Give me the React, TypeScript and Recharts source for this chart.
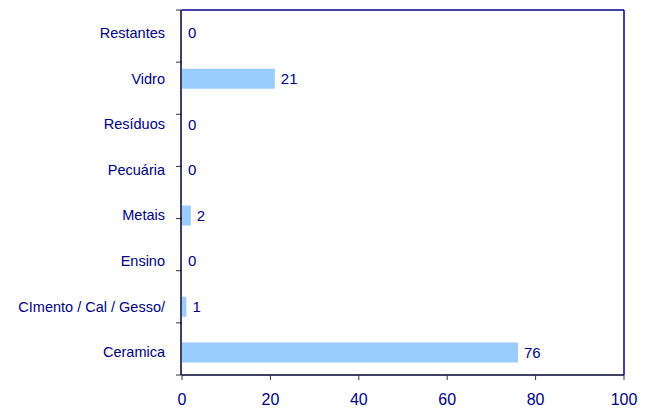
import React from 'react';
import { BarChart, Bar, XAxis, YAxis, LabelList, ReferenceLine } from 'recharts';

const categories = ['Restantes', 'Vidro', 'Resíduos', 'Pecuária', 'Metais', 'Ensino', 'CImento / Cal / Gesso/', 'Ceramica'];
const values = [0, 21, 0, 0, 2, 0, 1, 76];
const xTicks = [0, 20, 40, 60, 80, 100];
const bandTicks = [0, 1, 2, 3, 4, 5, 6, 7, 8];

const data = categories.map((name, i) => ({ name, value: values[i], label: String(values[i]) }));

const NAVY = '#000080';
const FONT = 'Liberation Sans, Arial, sans-serif';

export default function App() {
  return (
    <div style={{ width: 647, height: 407 }}>
      <BarChart
        width={647}
        height={407}
        data={data}
        layout="vertical"
        margin={{ top: 2, right: 31, bottom: 10, left: 0 }}
        style={{ fontFamily: FONT }}
      >
        <XAxis
          type="number"
          xAxisId="x"
          domain={[0, 100]}
          ticks={xTicks}
          interval={0}
          height={30}
          tickSize={5}
          tickMargin={14}
          axisLine={{ stroke: '#000033', strokeWidth: 1.5 }}
          tickLine={{ stroke: '#333' }}
          tick={{ fill: NAVY, fontSize: 16, fontFamily: FONT }}
        />
        <YAxis
          yAxisId="band"
          type="number"
          domain={[0, 8]}
          ticks={bandTicks}
          interval={0}
          width={1}
          tickSize={6}
          axisLine={false}
          tickLine={{ stroke: '#333' }}
          tickFormatter={() => ''}
        />
        <YAxis
          yAxisId="cat"
          type="category"
          dataKey="name"
          width={173}
          tickSize={0}
          tickMargin={16}
          interval={0}
          axisLine={{ stroke: '#000033', strokeWidth: 1.5 }}
          tickLine={false}
          tick={{ fill: NAVY, fontSize: 14.5, fontFamily: FONT }}
        />
        <ReferenceLine xAxisId="x" yAxisId="band" y={0} stroke="#00008B" strokeWidth={1.5} />
        <ReferenceLine xAxisId="x" yAxisId="band" x={100} stroke="#00008B" strokeWidth={1.5} />
        <Bar xAxisId="x" yAxisId="cat" dataKey="value" fill="#99CCFF" barSize={20} minPointSize={0.01} isAnimationActive={false}>
          <LabelList dataKey="label" position="right" offset={6} fill={NAVY} fontSize={15} fontFamily={FONT} />
        </Bar>
      </BarChart>
    </div>
  );
}
